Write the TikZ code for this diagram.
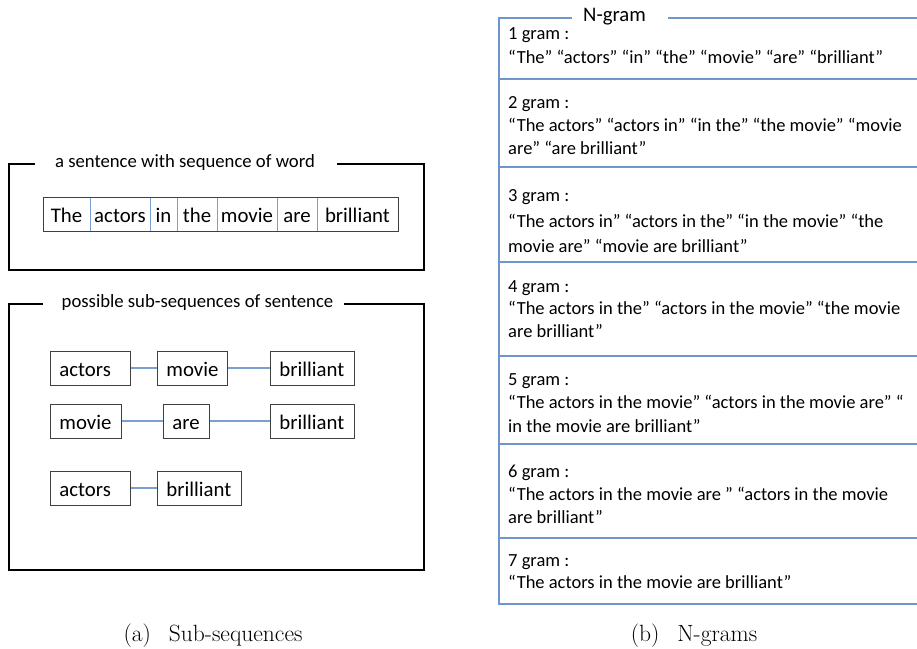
\documentclass[tikz,border=0pt]{standalone}
\usepackage{fontspec}
\newfontfamily\calfont{Carlito}
\definecolor{lblue}{RGB}{122,160,210}
\definecolor{dblue}{RGB}{110,150,205}
\definecolor{bgray}{RGB}{64,64,64}
\begin{document}
\begin{tikzpicture}[x=1pt,y=-1pt,
  frame/.style={line width=1.6pt,black},
  ftitle/.style={font=\calfont\fontsize{18.7}{22}\selectfont,inner sep=0pt},
  wcell/.style={font=\calfont\fontsize{20.8}{24}\selectfont,inner sep=0pt,anchor=base},
  wbox/.style={draw=bgray,line width=0.9pt,font=\calfont\fontsize{20.8}{24}\selectfont,
     minimum height=34pt,inner xsep=9pt,inner ysep=0pt,align=left,anchor=west,
     text height=17pt,text depth=0pt},
  conn/.style={lblue,line width=1.1pt},
  gline/.style={font=\calfont\fontsize{18.5}{22.5}\selectfont,inner sep=0pt,anchor=base west},
  sep/.style={dblue,line width=1.1pt},
  capt/.style={font=\fontsize{23.5}{26}\selectfont,inner sep=0pt,anchor=base}
]
\useasboundingbox (0,0) rectangle (917,648);
% ---------- panel (a) top frame
\draw[frame] (35,164) -- (9,164) -- (9,270) -- (424,270) -- (424,164) -- (337,164);
\node[ftitle] (t1) at (185,163) {a sentence with sequence of word};
\draw[bgray,line width=0.9pt] (43,197) rectangle (398,231);
\foreach \x in {90,150,177,217,277,317}{\draw[lblue,line width=1pt] (\x,197.5) -- (\x,230.5);}
\node[wcell] (w1) at (66.5,222) {The};
\node[wcell] (w2) at (120,222) {actors};
\node[wcell] (w3) at (163.5,222) {in};
\node[wcell] (w4) at (197,222) {the};
\node[wcell] (w5) at (247,222) {movie};
\node[wcell] (w6) at (297,222) {are};
\node[wcell] (w7) at (357.5,222) {brilliant};
% ---------- panel (a) bottom frame
\draw[frame] (43,304) -- (9,304) -- (9,570) -- (424,570) -- (424,304) -- (344,304);
\node[ftitle] (t2) at (197.5,303) {possible sub-sequences of sentence};
\node[wbox,text width=62pt] (a1) at (50,368) {actors};
\node[wbox,text width=52pt] (m1) at (157,368) {movie};
\node[wbox,text width=66pt] (b1) at (270,368) {brilliant};
\node[wbox,text width=53pt] (m2) at (50,421) {movie};
\node[wbox,text width=28pt] (r2) at (163,421) {are};
\node[wbox,text width=66pt] (b2) at (270,421) {brilliant};
\node[wbox,text width=62pt] (a3) at (50,488) {actors};
\node[wbox,text width=66pt] (b3) at (157,488) {brilliant};
\draw[conn] (a1) -- (m1);
\draw[conn] (m1) -- (b1);
\draw[conn] (m2) -- (r2);
\draw[conn] (r2) -- (b2);
\draw[conn] (a3) -- (b3);
% ---------- panel (b)
\draw[sep] (572,18) -- (499,18) -- (499,604) -- (917,604);
\draw[sep] (668,18) -- (917,18);
\foreach \y in {79,167,262,356,444,538}{\draw[sep] (499,\y) -- (917,\y);}
\node[font=\calfont\fontsize{20.7}{24}\selectfont,inner sep=0pt] (ng) at (614.5,17) {N-gram};
\node[gline] (g1a) at (508,39) {1 gram :};
\node[gline] (g1b) at (508,63) {“The” “actors” “in” “the” “movie” “are” “brilliant”};
\node[gline] (g2a) at (508,108) {2 gram :};
\node[gline] (g2b) at (508,131) {“The actors” “actors in” “in the” “the movie” “movie};
\node[gline] (g2c) at (508,154) {are” “are brilliant”};
\node[gline] (g3a) at (508,201) {3 gram :};
\node[gline] (g3b) at (508,227) {“The actors in” “actors in the” “in the movie” “the};
\node[gline] (g3c) at (508,252) {movie are” “movie are brilliant”};
\node[gline] (g4a) at (508,292) {4 gram :};
\node[gline] (g4b) at (508,314) {“The actors in the” “actors in the movie” “the movie};
\node[gline] (g4c) at (508,337) {are brilliant”};
\node[gline] (g5a) at (508,385) {5 gram :};
\node[gline] (g5b) at (508,408) {“The actors in the movie” “actors in the movie are” “};
\node[gline] (g5c) at (508,432) {in the movie are brilliant”};
\node[gline] (g6a) at (508,477) {6 gram :};
\node[gline] (g6b) at (508,500) {“The actors in the movie are ” “actors in the movie};
\node[gline] (g6c) at (508,523) {are brilliant”};
\node[gline] (g7a) at (508,566) {7 gram :};
\node[gline] (g7b) at (508,588) {“The actors in the movie are brilliant”};
% ---------- captions
\node[capt] (ca) at (213,641) {(a)\hspace{18pt}Sub-sequences};
\node[capt] (cb) at (694,641) {(b)\hspace{18pt}N-grams};
\end{tikzpicture}
\end{document}
